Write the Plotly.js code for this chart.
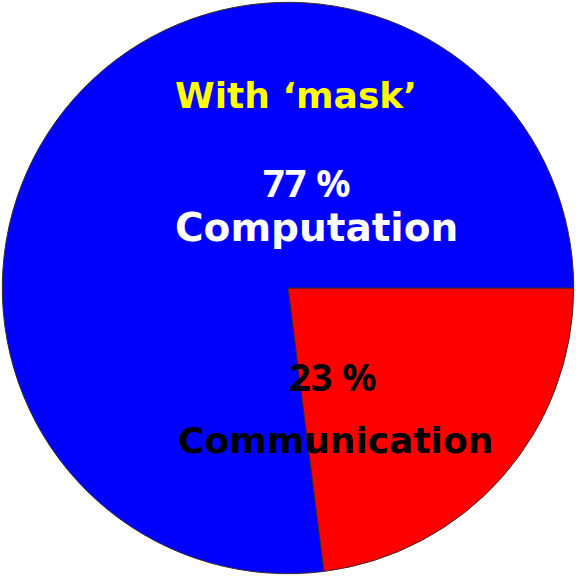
<!DOCTYPE html>
<html>
<head>
<meta charset="utf-8">
<script src="https://cdn.plot.ly/plotly-3.0.1.min.js"></script>
<style>
  html, body { margin: 0; padding: 0; background: #ffffff; }
  #chart { width: 576px; height: 576px; }
</style>
</head>
<body>
<div id="chart"></div>
<script>
// Share of run time with 'mask'
const categories = ["Communication", "Computation"];
const shares = [23, 77];
const sliceColors = ["#ff0000", "#0000ff"];
const chartTitle = "With \u2018mask\u2019";

const W = 576, H = 576;
const py = (y) => 1 - y / H;
const px = (x) => x / W;

const pie = {
  type: "pie",
  labels: categories,
  values: shares,
  sort: false,
  direction: "clockwise",
  rotation: 90,
  textinfo: "none",
  hoverinfo: "none",
  showlegend: false,
  marker: { colors: sliceColors, line: { color: "#3a2a2a", width: 1 } },
  domain: { x: [0.004, 0.996], y: [0.004, 0.996] }
};

const wide = "DejaVu Sans, Verdana, sans-serif";
const pctFont = "Noto Sans, Open Sans, sans-serif";

const annotations = [
  { text: "<b>" + chartTitle + "</b>", x: px(296), y: py(95),
    font: { family: wide, size: 36, color: "#ffff00" } },
  { text: "<b>" + shares[1] + " %</b>", x: px(307), y: py(182),
    font: { family: pctFont, size: 38, color: "#ffffff" } },
  { text: "<b>" + categories[1] + "</b>", x: px(316), y: py(228),
    font: { family: wide, size: 39, color: "#ffffff" } },
  { text: "<b>" + shares[0] + " %</b>", x: px(333), y: py(376),
    font: { family: pctFont, size: 38, color: "#000000" } },
  { text: "<b>" + categories[0] + "</b>", x: px(335), y: py(440),
    font: { family: wide, size: 36, color: "#000000" } }
].map(a => Object.assign({ xref: "paper", yref: "paper", showarrow: false,
                            xanchor: "center", yanchor: "middle" }, a));

const layout = {
  width: W, height: H,
  margin: { l: 0, r: 0, t: 0, b: 0 },
  paper_bgcolor: "#ffffff",
  annotations: annotations
};

Plotly.newPlot("chart", [pie], layout, { displayModeBar: false, staticPlot: true });
</script>
</body>
</html>
